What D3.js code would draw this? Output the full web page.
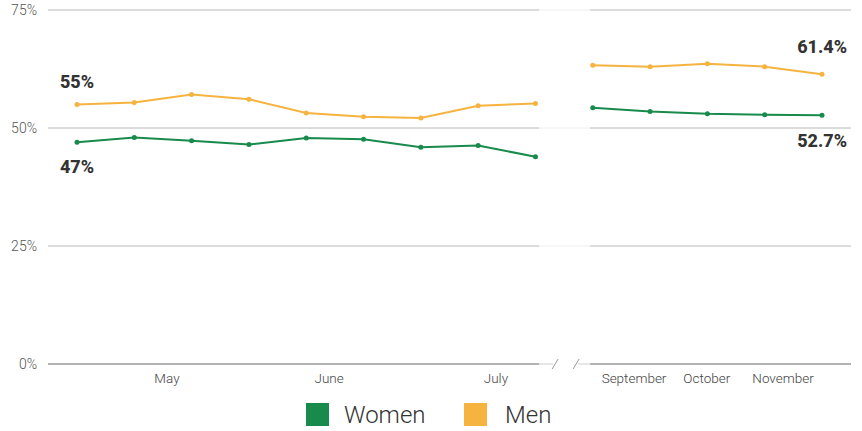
<!DOCTYPE html>
<html>
<head>
<meta charset="utf-8">
<script src="https://cdn.jsdelivr.net/npm/d3@7"></script>
<style>
  body { margin: 0; background: #fff; }
  svg text { font-family: Roboto, "Liberation Sans", sans-serif; }
</style>
</head>
<body>
<svg id="chart" width="862" height="431"></svg>
<script>
// survey waves, evenly spaced; no wave in August (break after index 8)
var women = [47.0, 48.0, 47.3, 46.5, 47.9, 47.6, 45.9, 46.3, 43.9, 54.3, 53.5, 53.0, 52.8, 52.7];
var men   = [55.0, 55.4, 57.1, 56.1, 53.2, 52.4, 52.1, 54.7, 55.2, 63.3, 63.0, 63.6, 63.0, 61.4];
var breakAfter = 8;

var monthLabels = ["May", "June", "July", "September", "October", "November"];
var monthPos    = [1.57, 4.40, 7.31, 9.72, 10.99, 12.32];   // in wave-index units

var yTicks = [0, 25, 50, 75];

var svg = d3.select("#chart");
var green = "#178a4c", orange = "#f6b340";

var x = d3.scaleLinear().domain([0, women.length - 1]).range([77, 822]);
var y = d3.scaleLinear().domain([0, 75]).range([364, 10]);

var left = 48, right = 851;
var gapL = x(breakAfter + 0.5) - 25, gapR = x(breakAfter + 0.5) + 26;

// gridlines
yTicks.filter(function(d) { return d > 0; }).forEach(function(t) {
    var g = svg.append("g");
    g.append("line").attr("x1", left).attr("x2", gapL).attr("y1", y(t)).attr("y2", y(t))
        .attr("stroke", "#b8b8b8").attr("stroke-width", 1);
    g.append("line").attr("x1", gapL).attr("x2", gapR).attr("y1", y(t)).attr("y2", y(t))
        .attr("stroke", "#eeeeee").attr("stroke-width", 1);
    g.append("line").attr("x1", gapR).attr("x2", right).attr("y1", y(t)).attr("y2", y(t))
        .attr("stroke", "#b8b8b8").attr("stroke-width", 1);
});

// baseline with break marks
var y0 = y(0);
var base = svg.append("g");
base.append("line").attr("x1", left).attr("x2", gapL).attr("y1", y0).attr("y2", y0).attr("stroke", "#666");
base.append("line").attr("x1", gapR).attr("x2", right).attr("y1", y0).attr("y2", y0).attr("stroke", "#666");
base.append("line").attr("x1", gapL).attr("x2", gapL + 14).attr("y1", y0).attr("y2", y0).attr("stroke", "#cfcfcf");
base.append("line").attr("x1", gapR - 12).attr("x2", gapR).attr("y1", y0).attr("y2", y0).attr("stroke", "#cfcfcf");
[gapL + 16, gapR - 14].forEach(function(cx) {
    base.append("line").attr("x1", cx - 3).attr("x2", cx + 3).attr("y1", y0 + 5).attr("y2", y0 - 5)
        .attr("stroke", "#999").attr("stroke-width", 1);
});

// y tick labels
svg.selectAll(".ylab").data(yTicks).enter().append("text")
    .attr("class", "ylab")
    .attr("x", 37).attr("y", function(d) { return y(d) + 5; })
    .attr("text-anchor", "end")
    .attr("font-size", 14).attr("font-weight", 300).attr("fill", "#555")
    .text(function(d) { return d + "%"; });

// month labels
svg.selectAll(".mlab").data(monthLabels).enter().append("text")
    .attr("class", "mlab")
    .attr("x", function(d, i) { return x(monthPos[i]); })
    .attr("y", 383)
    .attr("text-anchor", "middle")
    .attr("font-size", 13.5).attr("font-weight", 300).attr("fill", "#444")
    .text(function(d) { return d; });

// lines, drawn in two pieces around the break
function drawSeries(vals, color) {
    var g = svg.append("g");
    [vals.slice(0, breakAfter + 1), vals.slice(breakAfter + 1)].forEach(function(seg, k) {
        var off = k === 0 ? 0 : breakAfter + 1;
        g.append("path")
            .attr("d", d3.line().x(function(d, i) { return x(i + off); }).y(function(d) { return y(d); })(seg))
            .attr("fill", "none").attr("stroke", color).attr("stroke-width", 2);
    });
    g.selectAll("circle").data(vals).enter().append("circle")
        .attr("cx", function(d, i) { return x(i); })
        .attr("cy", function(d) { return y(d); })
        .attr("r", 2.5).attr("fill", color);
}
drawSeries(men, orange);
drawSeries(women, green);

// start / end labels
var last = women.length - 1;
function fmt(v) { return (Math.round(v) === v ? v : v.toFixed(1)) + "%"; }
var lab = svg.append("g").attr("font-size", 18).attr("font-weight", 800).attr("fill", "#333")
    .style("font-family", "'Open Sans', Lato, sans-serif");
lab.append("text").attr("x", x(0)).attr("y", y(men[0]) - 16).attr("text-anchor", "middle").text(fmt(men[0]));
lab.append("text").attr("x", x(0)).attr("y", y(women[0]) + 31).attr("text-anchor", "middle").text(fmt(women[0]));
lab.append("text").attr("x", 847).attr("y", y(men[last]) - 21).attr("text-anchor", "end").text(fmt(men[last]));
lab.append("text").attr("x", 847).attr("y", y(women[last]) + 32).attr("text-anchor", "end").text(fmt(women[last]));

// legend
var legend = [{ name: "Women", color: green }, { name: "Men", color: orange }];
var lg = svg.selectAll(".leg").data(legend).enter().append("g")
    .attr("class", "leg")
    .attr("transform", function(d, i) { return "translate(" + (306 + i * 158) + ",403)"; });
lg.append("rect").attr("width", 23).attr("height", 23).attr("fill", function(d) { return d.color; });
lg.append("text").attr("x", function(d, i) { return i === 0 ? 38 : 41; }).attr("y", 20)
    .attr("font-size", 24).attr("font-weight", 300).attr("fill", "#333")
    .text(function(d) { return d.name; });
</script>
</body>
</html>
